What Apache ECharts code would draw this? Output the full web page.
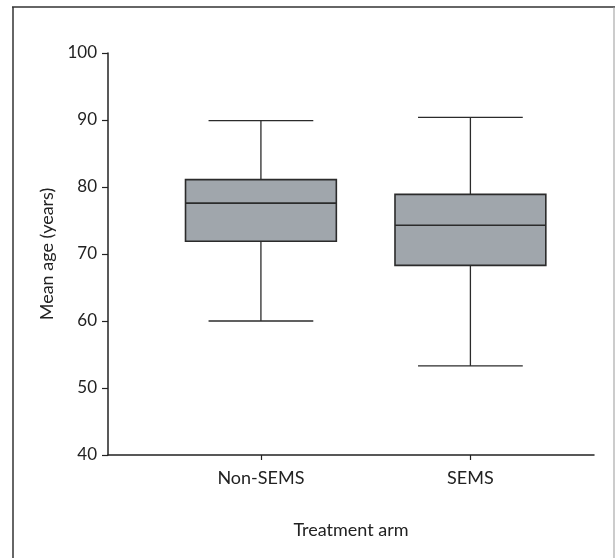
<!DOCTYPE html>
<html>
<head>
<meta charset="utf-8">
<script src="https://cdn.jsdelivr.net/npm/echarts@6/dist/echarts.min.js"></script>
<style>
html,body{margin:0;padding:0;background:#fff;}
#chart{width:615px;height:558px;}
</style>
</head>
<body>
<div id="chart"></div>
<script>
// Data
const categories = ['Non-SEMS', 'SEMS'];
const lowValues = [60, 53.3];
const q1Values = [71.9, 68.3];
const medianValues = [77.6, 74.3];
const q3Values = [81.1, 78.9];
const highValues = [89.9, 90.4];
const yTicks = [40, 50, 60, 70, 80, 90, 100];

const FONT = 'Lato';
const BOX_W = 0.72;  // in category units
const CAP_W = 0.5;

const seriesData = categories.map((c, i) => [i + 1, lowValues[i], q1Values[i], medianValues[i], q3Values[i], highValues[i]]);

const chart = echarts.init(document.getElementById('chart'));
chart.setOption({
  animation: false,
  backgroundColor: '#fff',
  graphic: [
    { type: 'line', shape: { x1: 13, y1: 7, x2: 13, y2: 560 }, style: { stroke: '#333', lineWidth: 1.5 } },
    { type: 'line', shape: { x1: 12, y1: 7, x2: 615, y2: 7 }, style: { stroke: '#333', lineWidth: 1.5 } },
    { type: 'line', shape: { x1: 614, y1: 7, x2: 614, y2: 560 }, style: { stroke: '#999', lineWidth: 1 } }
  ],
  grid: { left: 108, right: 21, top: 53, bottom: 103, containLabel: false },
  xAxis: {
    type: 'value',
    min: 0.27,
    max: 2.59,
    name: 'Treatment arm',
    nameLocation: 'middle',
    nameGap: 66,
    nameTextStyle: { fontFamily: FONT, fontSize: 18, color: '#222' },
    splitLine: { show: false },
    axisLine: { lineStyle: { color: '#222', width: 1.5 } },
    axisTick: { show: true, customValues: [1, 2], length: 5, inside: false, lineStyle: { color: '#222', width: 1.2 } },
    axisLabel: {
      customValues: [1, 2],
      formatter: v => categories[Math.round(v) - 1] || '',
      margin: 14,
      fontFamily: FONT, fontSize: 18, color: '#222'
    }
  },
  yAxis: {
    type: 'value',
    min: yTicks[0],
    max: yTicks[yTicks.length - 1],
    interval: 10,
    name: 'Mean age (years)',
    nameLocation: 'middle',
    nameGap: 45,
    nameTextStyle: { fontFamily: FONT, fontSize: 18, color: '#222' },
    splitLine: { show: false },
    axisLine: { show: true, lineStyle: { color: '#222', width: 1.5 } },
    axisTick: { show: true, length: 6, lineStyle: { color: '#222', width: 1.2 } },
    axisLabel: { margin: 11, fontFamily: FONT, fontSize: 17, color: '#222' }
  },
  series: [{
    type: 'custom',
    data: seriesData,
    encode: { x: 0, y: [1, 2, 3, 4, 5] },
    renderItem: function (params, api) {
      const x = api.value(0);
      const low = api.coord([x, api.value(1)]);
      const q1 = api.coord([x, api.value(2)]);
      const med = api.coord([x, api.value(3)]);
      const q3 = api.coord([x, api.value(4)]);
      const high = api.coord([x, api.value(5)]);
      const bw = api.size([BOX_W, 0])[0];
      const cw = api.size([CAP_W, 0])[0];
      const cx = low[0];
      const lineStyle = { stroke: '#2b2b2b', lineWidth: 1.3 };
      return {
        type: 'group',
        children: [
          { type: 'line', shape: { x1: cx, y1: high[1], x2: cx, y2: q3[1] }, style: lineStyle },
          { type: 'line', shape: { x1: cx, y1: q1[1], x2: cx, y2: low[1] }, style: lineStyle },
          { type: 'line', shape: { x1: cx - cw / 2, y1: high[1], x2: cx + cw / 2, y2: high[1] }, style: lineStyle },
          { type: 'line', shape: { x1: cx - cw / 2, y1: low[1], x2: cx + cw / 2, y2: low[1] }, style: lineStyle },
          { type: 'rect', shape: { x: cx - bw / 2, y: q3[1], width: bw, height: q1[1] - q3[1] },
            style: { fill: '#a0a6ac', stroke: '#2b2b2b', lineWidth: 1.6 } },
          { type: 'line', shape: { x1: cx - bw / 2, y1: med[1], x2: cx + bw / 2, y2: med[1] },
            style: { stroke: '#2b2b2b', lineWidth: 1.6 } }
        ]
      };
    }
  }]
});
</script>
</body>
</html>
